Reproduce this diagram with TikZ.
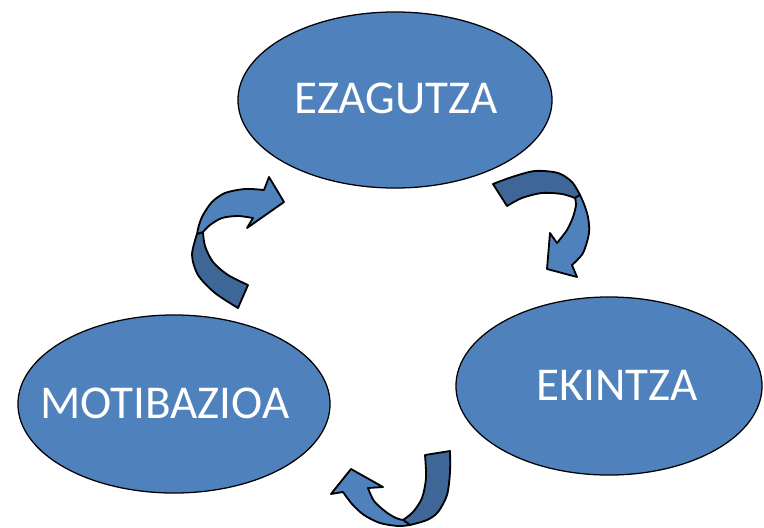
\documentclass[tikz,border=0pt]{standalone}
\usepackage{fontspec}
\setmainfont{Carlito}
\usepackage{tikz}
\usetikzlibrary{shapes.geometric}
\definecolor{cyclefill}{RGB}{79,129,189}
\definecolor{cycleback}{RGB}{62,103,152}
\tikzstyle{stage} = [ellipse, draw=black, line width=0.9pt, fill=cyclefill, inner sep=0pt]
\tikzstyle{stagetext} = [text=white, inner sep=0pt, font=\fontsize{33.5}{40}\selectfont]
\tikzstyle{bandfront} = [fill=cyclefill, draw=black, line width=1.3pt, line join=round]
\tikzstyle{bandback} = [fill=cycleback, draw=black, line width=1.3pt, line join=round]

\begin{document}
\begin{tikzpicture}[x=0.025cm, y=-0.025cm]
            \useasboundingbox (0,0) rectangle (764,527);
            \node (ezagutza) [stage, minimum width=7.85cm, minimum height=4.4cm] at (395,100) {};
            \node (ekintza) [stage, minimum width=7.65cm, minimum height=4.45cm] at (609,386) {};
            \node (motibazioa) [stage, minimum width=7.8cm, minimum height=4.45cm] at (174,404) {};
            \node (ezagutzatext) [stagetext] at (396,98) {EZAGUTZA};
            \node (ekintzatext) [stagetext] at (617,385) {EKINTZA};
            \node (motibazioatext) [stagetext] at (165,403) {MOTIBAZIOA};

            % motibazioa -> ezagutza
            \filldraw [bandback] (238,308) -- (248,285)
                -- plot[smooth] coordinates {(248,285) (228,275) (213,262) (205,246) (203,232)}
                -- (197,234)
                -- plot[smooth] coordinates {(197,234) (192,255) (198,275) (215,293) (238,308)} -- cycle;
            \filldraw [bandfront] (197,234)
                -- plot[smooth] coordinates {(197,234) (199,225) (203,215) (212,202) (225,193) (245,189) (264,190)}
                -- (269,177) -- (284,202) -- (247,228) -- (253,218)
                -- plot[smooth] coordinates {(253,218) (238,216) (222,218) (210,225) (203,232)} -- cycle;

            % ezagutza -> ekintza
            \filldraw [bandback] (493,184)
                -- plot[smooth] coordinates {(493,184) (512,177) (535,171) (558,173) (572,182) (580,195)}
                -- (575,198)
                -- plot[smooth] coordinates {(575,198) (562,194) (542,193) (522,198) (507,206)} -- cycle;
            \filldraw [bandfront] (580,195)
                -- plot[smooth] coordinates {(580,195) (584,204) (588,217) (589,233) (583,253) (572,265)}
                -- (577,277) -- (547,269) -- (550,233) -- (557,243)
                -- plot[smooth] coordinates {(557,243) (567,230) (573,217) (576,205) (575,198)} -- cycle;

            % ekintza -> motibazioa
            \filldraw [bandback] (425,455) -- (450,451)
                -- plot[smooth] coordinates {(450,451) (450,472) (447,495) (438,512) (427,520) (410,525)}
                -- (403,520)
                -- plot[smooth] coordinates {(403,520) (413,512) (422,498) (426,478) (425,455)} -- cycle;
            \filldraw [bandfront] (410,525)
                -- plot[smooth] coordinates {(410,525) (398,526) (380,523) (364,515) (352,504) (343,492)}
                -- (331,494) -- (351,469) -- (383,487) -- (368,488)
                -- plot[smooth] coordinates {(368,488) (374,501) (386,512) (396,518) (403,520)} -- cycle;
\end{tikzpicture}
\end{document}
